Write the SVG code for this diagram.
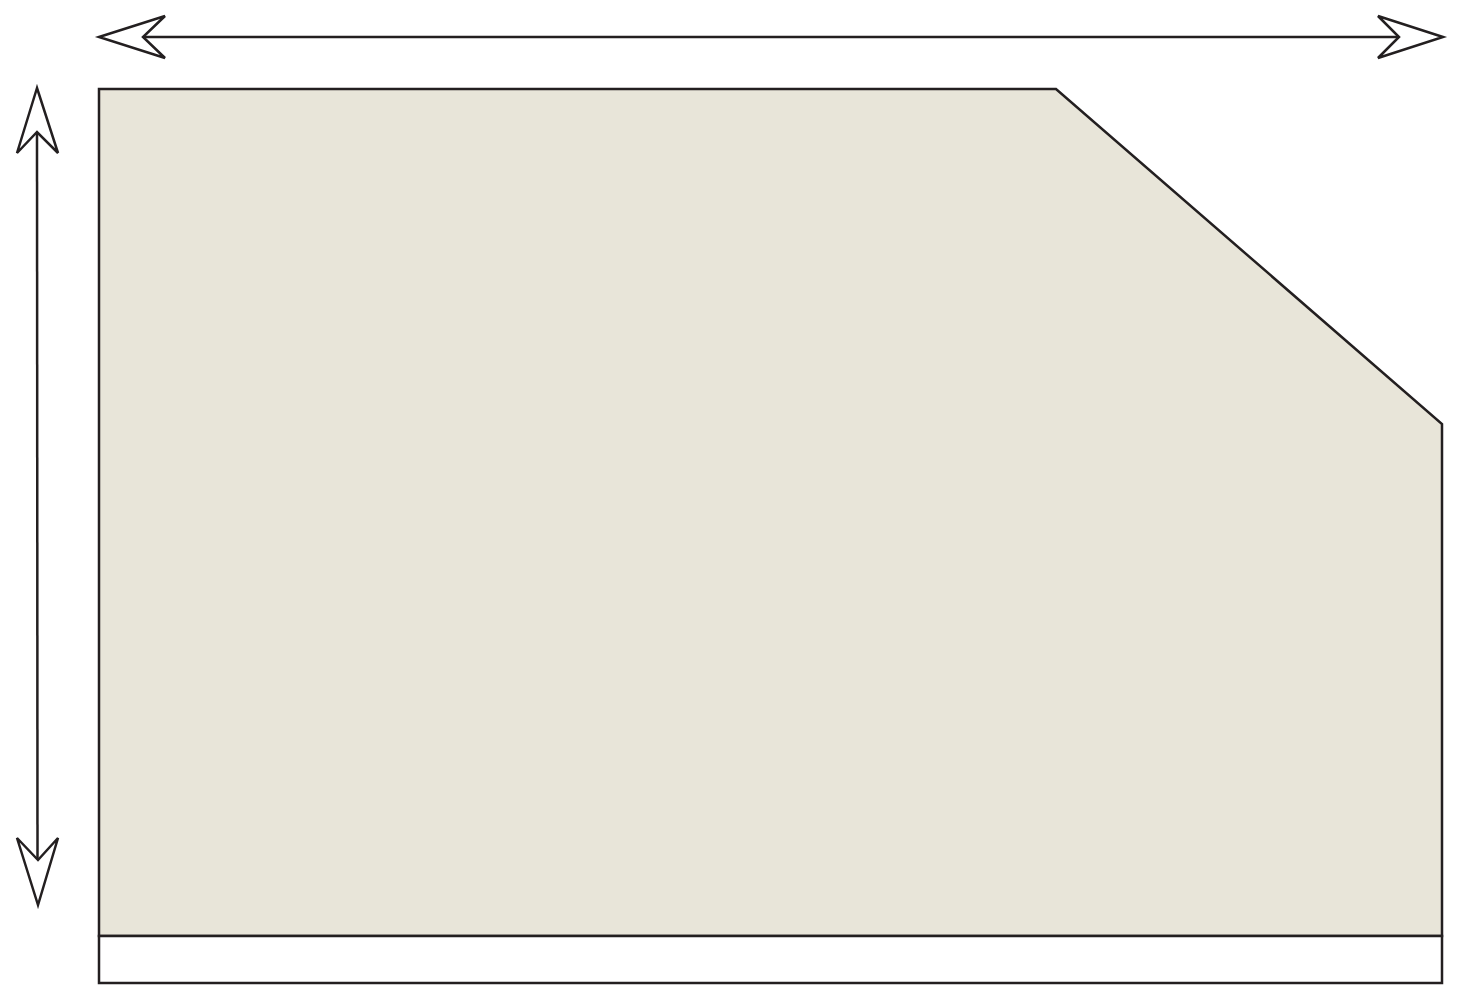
<svg xmlns="http://www.w3.org/2000/svg" width="1459" height="1000" viewBox="0 0 1459 1000">
<style>
.ln{stroke:#231f20;stroke-width:2.5;fill:none}
.hd{stroke:#231f20;stroke-width:2.5;fill:#fff;stroke-linejoin:miter}
.body{fill:#e8e5d9;stroke:#231f20;stroke-width:2.5;stroke-linejoin:miter}
.band{fill:#fff;stroke:#231f20;stroke-width:2.5}
</style>
<rect width="1459" height="1000" fill="#fff"/>
<g id="panel">
<polygon class="body" points="99,89 1056,89 1442,424 1442,936 99,936"/>
<rect class="band" x="99" y="936" width="1343" height="47"/>
</g>
<g id="connectors">
<line class="ln" x1="143" y1="37" x2="1399" y2="37"/>
<polygon class="hd" points="99,37 165,16 143,37 165,58"/>
<polygon class="hd" points="1443,37 1378,16 1399,37 1378,58"/>
<line class="ln" x1="37" y1="132" x2="37.5" y2="860"/>
<polygon class="hd" points="37,88 17,153 37,132 58,153"/>
<polygon class="hd" points="38,905 17,838 38,860 58,838"/>
</g>
</svg>
